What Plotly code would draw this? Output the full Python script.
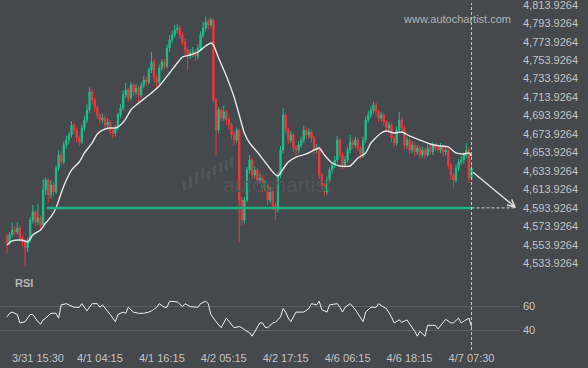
import plotly.graph_objects as go

# ---------------- data ----------------
opens = [4563.0, 4557.0, 4564.6, 4570.0, 4567.8, 4572.1, 4561.3, 4557.0, 4550.5, 4559.2,
         4580.8, 4589.5, 4578.6, 4583.0, 4575.4, 4613.3, 4624.1, 4607.9, 4618.7, 4611.1,
         4637.1, 4651.2, 4643.6, 4662.0, 4667.4, 4672.8, 4683.7, 4678.2, 4669.6, 4665.3,
         4680.4, 4689.1, 4699.9, 4719.4, 4710.7, 4702.1, 4694.5, 4689.1, 4691.2, 4683.7,
         4686.9, 4678.2, 4675.0, 4680.4, 4694.5, 4702.1, 4716.1, 4721.6, 4712.9, 4727.0,
         4719.4, 4723.7, 4716.1, 4727.0, 4732.4, 4730.2, 4743.2, 4751.9, 4734.5, 4730.2,
         4745.4, 4751.9, 4747.5, 4767.0, 4775.7, 4781.1, 4786.5, 4788.7, 4781.1, 4773.5,
         4764.9, 4759.5, 4761.6, 4762.7, 4758.4, 4767.0, 4781.1, 4788.7, 4795.2, 4791.9,
         4797.4, 4710.7, 4678.2, 4699.9, 4691.2, 4697.7, 4689.1, 4683.7, 4672.8, 4667.4,
         4678.2, 4602.5, 4580.8, 4602.5, 4634.9, 4645.8, 4629.5, 4634.9, 4624.1, 4626.3,
         4615.5, 4618.7, 4602.5, 4613.3, 4597.0, 4591.6, 4629.5, 4656.6, 4694.5, 4678.2,
         4667.4, 4672.8, 4658.8, 4656.6, 4662.0, 4667.4, 4678.2, 4672.8, 4676.1, 4669.6,
         4656.6, 4658.8, 4629.5, 4618.7, 4611.1, 4624.1, 4634.9, 4640.4, 4645.8, 4667.4,
         4651.2, 4640.4, 4645.8, 4656.6, 4665.3, 4662.0, 4667.4, 4658.8, 4651.2, 4667.4,
         4689.1, 4694.5, 4699.9, 4705.3, 4697.7, 4691.2, 4694.5, 4686.9, 4680.4, 4683.7,
         4669.6, 4664.2, 4678.2, 4689.1, 4680.4, 4662.0, 4667.4, 4656.6, 4662.0, 4654.4,
         4658.8, 4651.2, 4656.6, 4651.2, 4658.8, 4654.4, 4662.0, 4658.8, 4656.6, 4660.9,
         4654.4, 4656.6, 4640.4, 4629.5, 4624.1, 4637.1, 4643.6, 4645.8, 4651.2, 4656.6,
         4626.3]
closes = [4557.0, 4564.6, 4570.0, 4567.8, 4572.1, 4561.3, 4557.0, 4550.5, 4559.2, 4580.8,
          4589.5, 4578.6, 4583.0, 4575.4, 4613.3, 4624.1, 4607.9, 4618.7, 4611.1, 4637.1,
          4651.2, 4643.6, 4662.0, 4667.4, 4672.8, 4683.7, 4678.2, 4669.6, 4665.3, 4680.4,
          4689.1, 4699.9, 4719.4, 4710.7, 4702.1, 4694.5, 4689.1, 4691.2, 4683.7, 4686.9,
          4678.2, 4675.0, 4680.4, 4694.5, 4702.1, 4716.1, 4721.6, 4712.9, 4727.0, 4719.4,
          4723.7, 4716.1, 4727.0, 4732.4, 4730.2, 4743.2, 4751.9, 4734.5, 4730.2, 4745.4,
          4751.9, 4747.5, 4767.0, 4775.7, 4781.1, 4786.5, 4788.7, 4781.1, 4773.5, 4764.9,
          4759.5, 4761.6, 4762.7, 4758.4, 4767.0, 4781.1, 4788.7, 4795.2, 4791.9, 4797.4,
          4710.7, 4678.2, 4699.9, 4691.2, 4697.7, 4689.1, 4683.7, 4672.8, 4667.4, 4678.2,
          4602.5, 4580.8, 4602.5, 4634.9, 4645.8, 4629.5, 4634.9, 4624.1, 4626.3, 4615.5,
          4618.7, 4602.5, 4613.3, 4597.0, 4591.6, 4629.5, 4656.6, 4694.5, 4678.2, 4667.4,
          4672.8, 4658.8, 4656.6, 4662.0, 4667.4, 4678.2, 4672.8, 4676.1, 4669.6, 4656.6,
          4658.8, 4629.5, 4618.7, 4611.1, 4624.1, 4634.9, 4640.4, 4645.8, 4667.4, 4651.2,
          4640.4, 4645.8, 4656.6, 4665.3, 4662.0, 4667.4, 4658.8, 4651.2, 4667.4, 4689.1,
          4694.5, 4699.9, 4705.3, 4697.7, 4691.2, 4694.5, 4686.9, 4680.4, 4683.7, 4669.6,
          4664.2, 4678.2, 4689.1, 4680.4, 4662.0, 4667.4, 4656.6, 4662.0, 4654.4, 4658.8,
          4651.2, 4656.6, 4651.2, 4658.8, 4654.4, 4662.0, 4658.8, 4656.6, 4660.9, 4654.4,
          4656.6, 4640.4, 4629.5, 4624.1, 4637.1, 4643.6, 4645.8, 4651.2, 4656.6, 4626.3,
          4637.1]
highs = [4566.0, 4568.0, 4578.0, 4574.0, 4578.5, 4575.0, 4564.0, 4560.0, 4562.0, 4584.0,
         4597.0, 4592.0, 4598.0, 4586.0, 4625.0, 4627.0, 4626.0, 4624.0, 4622.0, 4640.0,
         4656.0, 4655.0, 4666.0, 4672.0, 4676.0, 4688.0, 4686.0, 4681.0, 4672.0, 4684.0,
         4694.0, 4706.0, 4724.5, 4723.0, 4714.0, 4705.0, 4697.0, 4696.0, 4694.0, 4691.0,
         4689.0, 4681.0, 4684.0, 4697.0, 4706.0, 4721.0, 4729.0, 4724.0, 4730.0, 4729.0,
         4728.0, 4726.0, 4730.0, 4737.0, 4736.0, 4746.0, 4763.0, 4755.0, 4738.0, 4749.0,
         4755.0, 4755.0, 4771.0, 4781.0, 4786.0, 4792.0, 4793.0, 4791.0, 4784.0, 4777.0,
         4768.0, 4766.0, 4768.0, 4766.0, 4771.0, 4785.0, 4795.0, 4801.0, 4799.0, 4800.0,
         4799.0, 4713.0, 4703.0, 4703.0, 4705.0, 4700.0, 4692.0, 4686.0, 4676.0, 4681.0,
         4680.0, 4606.0, 4606.0, 4638.0, 4651.0, 4648.0, 4639.0, 4637.0, 4631.0, 4629.0,
         4624.0, 4621.0, 4617.0, 4616.0, 4600.0, 4633.0, 4661.0, 4702.0, 4697.0, 4681.0,
         4677.0, 4675.0, 4662.0, 4666.0, 4671.0, 4683.0, 4681.0, 4680.0, 4679.0, 4672.0,
         4663.0, 4661.0, 4632.0, 4621.0, 4628.0, 4638.0, 4644.0, 4650.0, 4672.0, 4669.0,
         4654.0, 4650.0, 4660.0, 4673.0, 4669.0, 4671.0, 4670.0, 4661.0, 4671.0, 4693.0,
         4699.0, 4704.0, 4709.0, 4708.0, 4700.0, 4698.0, 4697.0, 4689.0, 4687.0, 4686.0,
         4672.0, 4682.0, 4698.0, 4692.0, 4683.0, 4671.0, 4670.0, 4666.0, 4665.0, 4662.0,
         4661.0, 4660.0, 4659.0, 4665.0, 4662.0, 4665.0, 4664.0, 4661.0, 4664.0, 4663.0,
         4660.0, 4659.0, 4643.0, 4632.0, 4641.0, 4647.0, 4650.0, 4654.0, 4664.0, 4660.0,
         4640.0]
lows = [4545.0, 4554.0, 4562.0, 4564.0, 4565.0, 4558.0, 4552.0, 4530.0, 4546.0, 4556.0,
        4577.0, 4574.0, 4575.0, 4570.0, 4573.0, 4608.0, 4600.0, 4604.0, 4606.0, 4609.0,
        4634.0, 4640.0, 4641.0, 4658.0, 4663.0, 4670.0, 4674.0, 4665.0, 4661.0, 4663.0,
        4677.0, 4686.0, 4697.0, 4706.0, 4698.0, 4690.0, 4685.0, 4686.0, 4680.0, 4680.0,
        4673.0, 4669.0, 4671.0, 4678.0, 4691.0, 4699.0, 4713.0, 4709.0, 4710.0, 4715.0,
        4716.0, 4706.0, 4713.0, 4724.0, 4726.0, 4728.0, 4740.0, 4730.0, 4722.0, 4727.0,
        4742.0, 4744.0, 4745.0, 4763.0, 4772.0, 4778.0, 4783.0, 4777.0, 4770.0, 4760.0,
        4743.0, 4755.0, 4757.0, 4753.0, 4755.0, 4764.0, 4778.0, 4785.0, 4787.0, 4789.0,
        4708.0, 4651.0, 4675.0, 4687.0, 4688.0, 4684.0, 4679.0, 4668.0, 4662.0, 4664.0,
        4556.0, 4575.0, 4577.0, 4600.0, 4631.0, 4625.0, 4626.0, 4619.0, 4620.0, 4611.0,
        4612.0, 4597.0, 4599.0, 4592.0, 4581.0, 4589.0, 4626.0, 4653.0, 4674.0, 4663.0,
        4664.0, 4654.0, 4651.0, 4653.0, 4659.0, 4664.0, 4669.0, 4669.0, 4665.0, 4652.0,
        4653.0, 4625.0, 4614.0, 4607.0, 4608.0, 4621.0, 4631.0, 4637.0, 4643.0, 4647.0,
        4636.0, 4637.0, 4643.0, 4653.0, 4658.0, 4659.0, 4655.0, 4647.0, 4648.0, 4664.0,
        4686.0, 4691.0, 4696.0, 4694.0, 4687.0, 4688.0, 4683.0, 4676.0, 4677.0, 4665.0,
        4660.0, 4661.0, 4675.0, 4676.0, 4657.0, 4658.0, 4652.0, 4653.0, 4650.0, 4651.0,
        4647.0, 4648.0, 4647.0, 4649.0, 4651.0, 4651.0, 4655.0, 4653.0, 4653.0, 4650.0,
        4651.0, 4636.0, 4624.0, 4616.0, 4621.0, 4634.0, 4640.0, 4642.0, 4648.0, 4621.0,
        4624.0]

ma_idx = [0, 2, 5, 7, 8, 10, 13, 15, 17, 19, 21, 23, 25, 28, 30, 33, 35, 37, 40, 42,
          44, 46, 48, 51, 55, 59, 63, 66, 68, 71, 74, 77, 79, 80, 82, 85, 88, 90, 92, 94,
          97, 100, 103, 105, 107, 109, 112, 116, 119, 121, 123, 126, 129, 133, 136, 139,
          141, 145, 147, 150, 153, 156, 160, 164, 168, 171, 174, 177, 179, 180]
ma_val = [4553.7, 4558.1, 4559.2, 4558.1, 4557.0, 4564.6, 4570.0, 4577.6, 4584.1, 4593.8,
          4610.0, 4624.1, 4634.9, 4643.6, 4653.4, 4664.2, 4673.9, 4678.2, 4680.4, 4680.4,
          4683.7, 4690.2, 4699.9, 4707.5, 4716.1, 4725.9, 4740.0, 4750.8, 4757.3, 4759.5,
          4762.7, 4769.2, 4772.4, 4770.3, 4756.2, 4736.7, 4714.0, 4694.5, 4675.0, 4664.2,
          4654.4, 4643.6, 4632.8, 4628.4, 4636.0, 4643.6, 4649.0, 4652.3, 4656.6, 4658.8,
          4651.2, 4642.5, 4639.3, 4639.3, 4647.9, 4653.4, 4664.2, 4675.0, 4677.2, 4675.0,
          4676.1, 4671.8, 4667.4, 4663.1, 4660.9, 4659.9, 4653.4, 4652.3, 4653.4, 4650.1]

rsi_idx = [0, 1, 2, 4, 5, 7, 9, 10, 12, 13, 14, 15, 17, 19, 20, 21, 23, 24, 26, 28,
           29, 31, 33, 35, 36, 37, 39, 40, 42, 43, 45, 46, 47, 49, 51, 53, 55, 56, 58, 59,
           61, 62, 63, 65, 66, 68, 69, 71, 72, 74, 75, 77, 78, 79, 81, 82, 83, 85, 86, 87,
           88, 90, 91, 93, 94, 95, 96, 98, 99, 100, 101, 103, 104, 106, 107, 108, 109, 110,
           112, 114, 115, 117, 118, 120, 121, 122, 124, 125, 128, 129, 130, 131, 133, 135,
           136, 138, 139, 141, 143, 144, 146, 147, 149, 150, 152, 153, 155, 157, 158, 159,
           160, 162, 163, 165, 166, 167, 168, 170, 172, 173, 175, 176, 179, 180]
rsi_val = [51, 54, 55, 53, 46, 47, 53, 53, 47, 45, 48.5, 50, 54, 54, 50, 61, 62, 61, 59, 59,
           62, 56, 62, 62, 59, 61, 56, 53, 47, 53, 55, 54, 59, 55, 54, 54, 55, 56, 59, 62,
           59, 59, 64, 64, 63.5, 59.5, 62, 59.5, 59.5, 59, 62, 64, 62, 53, 47, 44, 42, 50, 47, 44,
           42, 43, 42, 39, 38, 35, 39, 46, 46, 42.5, 42, 46, 46.5, 51, 58, 55, 50, 47,
           55, 55, 55, 58, 62, 61, 64, 57, 55, 61, 62, 59, 55, 59, 62, 57,
           54, 47, 55, 59, 59, 62, 59, 58, 51, 46, 48.5, 46.5, 48.5, 42.5, 39, 35,
           39, 35, 44, 44, 44, 41, 44, 49, 46, 46, 50, 46, 50, 43]

tick_idx = [12, 36, 60, 84, 108, 132, 156, 180]
tick_text = ["3/31 15:30", "4/1 04:15", "4/1 16:15", "4/2 05:15",
             "4/2 17:15", "4/6 06:15", "4/6 18:15", "4/7 07:30"]

price_ticks = [4533.9264, 4553.9264, 4573.9264, 4593.9264, 4613.9264, 4633.9264,
               4653.9264, 4673.9264, 4693.9264, 4713.9264, 4733.9264, 4753.9264,
               4773.9264, 4793.9264, 4813.9264]
price_tick_text = ["4,533.9264", "4,553.9264", "4,573.9264", "4,593.9264", "4,613.9264",
                   "4,633.9264", "4,653.9264", "4,673.9264", "4,693.9264", "4,713.9264",
                   "4,733.9264", "4,753.9264", "4,773.9264", "4,793.9264", "4,813.9264"]
rsi_ticks = [40, 60]

level_price = 4593.9264
level_start_idx = 15.4
last_idx = 180
forecast_start_price = 4633.9264
forecast_end_idx = 197.3

# ---------------- styling ----------------
BG = "#45484c"
GREEN = "#1bc18b"
RED = "#f5363d"
LEVEL = "#19b582"
TXT = "#c4c4c4"
FONT = "Liberation Sans, Arial, sans-serif"

x = list(range(len(closes)))

fig = go.Figure()
fig.add_trace(go.Candlestick(
    x=x, open=opens, high=highs, low=lows, close=closes,
    increasing=dict(line=dict(color=GREEN, width=1), fillcolor=GREEN),
    decreasing=dict(line=dict(color=RED, width=1), fillcolor=RED),
    whiskerwidth=0, xaxis="x", yaxis="y", showlegend=False, hoverinfo="skip"))
fig.add_trace(go.Scatter(
    x=ma_idx, y=ma_val, mode="lines", line=dict(color="#e6e6e6", width=1.4, shape="spline", smoothing=0.6),
    xaxis="x", yaxis="y", showlegend=False, hoverinfo="skip"))
# support level
fig.add_trace(go.Scatter(
    x=[level_start_idx, last_idx], y=[level_price, level_price], mode="lines",
    line=dict(color=LEVEL, width=2.5), xaxis="x", yaxis="y", showlegend=False, hoverinfo="skip"))
# forecast dashed horizontal
fig.add_trace(go.Scatter(
    x=[last_idx, forecast_end_idx], y=[level_price, level_price], mode="lines",
    line=dict(color="#cfcfcf", width=1, dash="3px,2px"), xaxis="x", yaxis="y",
    showlegend=False, hoverinfo="skip"))
# RSI
fig.add_trace(go.Scatter(
    x=rsi_idx, y=rsi_val, mode="lines", line=dict(color="#f0f0f0", width=1),
    xaxis="x2", yaxis="y2", showlegend=False, hoverinfo="skip"))

XR = [-2.71, 198.8]
XD = [0, 520 / 588]

fig.update_layout(
    width=588, height=368, autosize=False,
    margin=dict(l=0, r=0, t=0, b=0),
    paper_bgcolor=BG, plot_bgcolor=BG,
    font=dict(family=FONT, size=11, color=TXT),
    xaxis=dict(domain=XD, range=XR, showgrid=False, zeroline=False, showticklabels=False,
               rangeslider=dict(visible=False), anchor="y", fixedrange=True),
    yaxis=dict(domain=[1 - 270 / 368, 1], range=[4526.67, 4819.02], side="right",
               tickvals=price_ticks, ticktext=price_tick_text, showgrid=False, zeroline=False,
               ticks="", tickfont=dict(size=11, color=TXT), anchor="x",
               ticklabeloverflow="allow", ticklabelstandoff=2),
    xaxis2=dict(domain=XD, range=XR, showgrid=False, zeroline=False, tickvals=tick_idx,
                ticktext=tick_text, ticks="", tickfont=dict(size=11, color=TXT), anchor="y2",
                ticklabelstandoff=3),
    yaxis2=dict(domain=[1 - 347 / 368, 1 - 275 / 368], range=[26.0, 85.8], side="right",
                tickvals=rsi_ticks, ticktext=["40", "60"], showgrid=True, gridcolor="#5b5e62",
                gridwidth=1, zeroline=False, ticks="", tickfont=dict(size=11, color=TXT),
                anchor="x2", ticklabelstandoff=2),
)

# vertical dashed line at last candle
fig.add_shape(type="line", xref="x", yref="paper", x0=last_idx, x1=last_idx,
              y0=1 - 350 / 368, y1=1 - 3 / 368,
              line=dict(color="#c8c8c8", width=1, dash="3px,2px"), layer="above")

# forecast arrow
fig.add_annotation(x=forecast_end_idx, y=level_price, ax=last_idx, ay=forecast_start_price,
                   xref="x", yref="y", axref="x", ayref="y", showarrow=True,
                   arrowhead=5, arrowsize=1.1, arrowwidth=1.3, arrowcolor="#e6e6e6", text="")

# watermark
wm_color = "#515458"
bars = [(183, 181, 190), (189, 176, 188), (195, 172, 184), (201, 168, 179), (207, 171, 180),
        (213, 165, 175), (219, 163, 172), (225, 160, 170), (230, 157, 167)]
for bx, by0, by1 in bars:
    fig.add_shape(type="rect", xref="paper", yref="paper",
                  x0=bx / 588, x1=(bx + 3) / 588, y0=1 - by1 / 368, y1=1 - by0 / 368,
                  fillcolor=wm_color, line=dict(width=0), layer="below")
fig.add_annotation(x=277 / 588, y=1 - 185 / 368, xref="paper", yref="paper",
                   text="autochartist", showarrow=False,
                   font=dict(family=FONT, size=21, color=wm_color))

fig.add_annotation(x=513 / 588, y=1 - 11 / 368, xref="paper", yref="paper", xanchor="right",
                   text="www.autochartist.com", showarrow=False,
                   font=dict(family=FONT, size=11, color="#b5b5b5"))
fig.add_annotation(x=13 / 588, y=1 - 291 / 368, xref="paper", yref="paper", xanchor="left",
                   text="<b>RSI</b>", showarrow=False,
                   font=dict(family=FONT, size=11, color="#b5b5b5"))

fig.write_html("out.html")
